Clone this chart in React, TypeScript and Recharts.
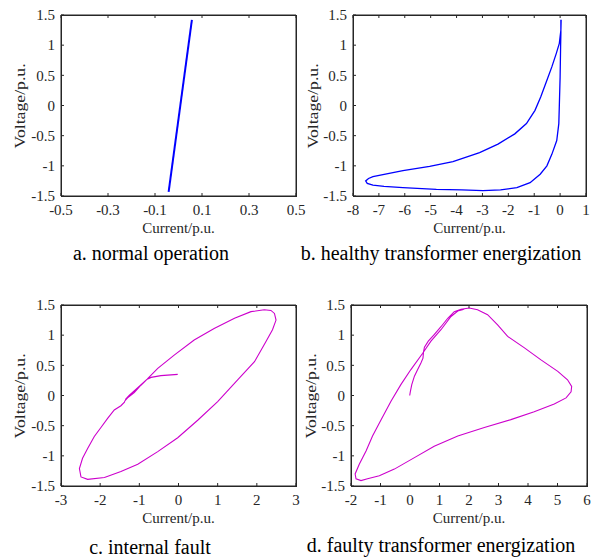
import React from 'react';
import { LineChart, Line, XAxis, YAxis } from 'recharts';

const FONT = '"Liberation Serif", "Times New Roman", serif';
const INK = '#262626';

// Shared voltage ticks
const voltageTicks = [-1.5, -1, -0.5, 0, 0.5, 1, 1.5];

// a. normal operation
const aCurrentTicks = [-0.5, -0.3, -0.1, 0.1, 0.3, 0.5];
const aCurrent = [-0.042, 0.057];
const aVoltage = [-1.43, 1.42];

// b. healthy transformer energization
const bCurrentTicks = [-8, -7, -6, -5, -4, -3, -2, -1, 0, 1];
const bCurrent = [0.03, 0.03, 0.02, 0.0, -0.03, -0.05, -0.13, -0.32, -0.51, -0.77, -1.16, -1.67, -2.3, -2.98, -3.8, -4.78, -6.07, -6.8, -7.23, -7.45, -7.51, -7.4, -7.23, -6.07, -5.04, -4.14, -3.11, -2.4, -1.75, -1.3, -0.97, -0.75, -0.51, -0.32, -0.15, -0.03, 0.03, 0.04];
const bVoltage = [1.42, 1.2, 1.0, 0.47, 0.0, -0.3, -0.58, -0.81, -1.0, -1.14, -1.28, -1.36, -1.4, -1.41, -1.4, -1.39, -1.36, -1.34, -1.32, -1.29, -1.25, -1.21, -1.18, -1.08, -1.01, -0.93, -0.78, -0.64, -0.47, -0.3, -0.08, 0.14, 0.42, 0.64, 0.86, 1.03, 1.25, 1.42];

// c. internal fault
const cCurrentTicks = [-3, -2, -1, 0, 1, 2, 3];
const cCurrent = [-0.02, -0.45, -0.7, -0.8, -0.96, -1.13, -1.3, -1.37, -1.38, -1.47, -1.64, -1.81, -1.98, -2.15, -2.32, -2.45, -2.53, -2.49, -2.32, -1.89, -1.47, -1.04, -0.53, -0.02, 0.49, 1.0, 1.51, 1.94, 2.23, 2.4, 2.49, 2.45, 2.36, 2.19, 1.85, 1.43, 0.91, 0.4, -0.11, -0.53, -0.8, -1.04, -1.26, -1.36];
const cVoltage = [0.35, 0.33, 0.3, 0.27, 0.17, 0.05, -0.04, -0.09, -0.11, -0.17, -0.24, -0.38, -0.53, -0.68, -0.88, -1.04, -1.21, -1.35, -1.39, -1.36, -1.26, -1.14, -0.93, -0.7, -0.41, -0.1, 0.26, 0.56, 0.89, 1.09, 1.25, 1.36, 1.41, 1.42, 1.39, 1.28, 1.11, 0.92, 0.67, 0.45, 0.27, 0.13, 0.0, -0.07];

// d. faulty transformer energization
const dCurrentTicks = [-2, -1, 0, 1, 2, 3, 4, 5, 6];
const dCurrent = [-0.01, 0.01, 0.06, 0.15, 0.26, 0.37, 0.44, 0.46, 0.49, 0.62, 0.82, 1.05, 1.28, 1.5, 1.73, 2.01, 2.29, 2.63, 2.97, 3.31, 3.88, 4.44, 5.01, 5.34, 5.48, 5.46, 5.29, 4.89, 4.21, 3.42, 2.52, 1.62, 0.82, 0.15, -0.53, -1.04, -1.44, -1.66, -1.83, -1.86, -1.72, -1.49, -1.27, -0.98, -0.64, -0.31, 0.03, 0.43, 0.71, 1.05, 1.39, 1.62, 1.84];
const dVoltage = [0.0, 0.06, 0.18, 0.32, 0.43, 0.54, 0.62, 0.73, 0.8, 0.9, 1.01, 1.14, 1.28, 1.39, 1.43, 1.45, 1.42, 1.34, 1.17, 0.98, 0.79, 0.59, 0.4, 0.26, 0.15, 0.06, -0.04, -0.14, -0.27, -0.4, -0.53, -0.67, -0.84, -1.03, -1.22, -1.33, -1.38, -1.41, -1.38, -1.3, -1.14, -0.92, -0.67, -0.4, -0.09, 0.18, 0.43, 0.7, 0.9, 1.09, 1.31, 1.4, 1.43];

// Text labels
const xTitle = 'Current/p.u.';
const yTitle = 'Voltage/p.u.';
const captions = [
  'a. normal operation',
  'b. healthy transformer energization',
  'c. internal fault',
  'd. faulty transformer energization',
];

const zip = (xs: number[], ys: number[]) => xs.map((x, i) => ({ x, y: ys[i] }));

const H = 245;

type PanelProps = {
  left: number;
  top: number;
  width: number;
  data: { x: number; y: number }[];
  xDomain: [number, number];
  xTicks: number[];
  color: string;
  strokeWidth: number;
  yAxisWidth: number;
  plotRight: number;
};

const Panel = (p: PanelProps) => (
  <div style={{ position: 'absolute', left: p.left, top: p.top }}>
    <LineChart width={p.width} height={H} data={p.data} margin={{ top: 14, right: p.width - p.plotRight - 1, bottom: 0, left: 0 }}>
      <XAxis xAxisId="b" type="number" dataKey="x" domain={p.xDomain} ticks={p.xTicks} interval={0} height={49} tickSize={-3} tickMargin={11} stroke={INK} tick={{ fill: INK, fontSize: 15, fontFamily: FONT }} />
      <XAxis xAxisId="t" orientation="top" type="number" dataKey="x" domain={p.xDomain} ticks={p.xTicks} interval={0} height={1} tickSize={-3} tickFormatter={() => ''} stroke={INK} />
      <YAxis yAxisId="l" type="number" domain={[-1.5, 1.5]} ticks={voltageTicks} interval={0} width={p.yAxisWidth} tickSize={-3} tickMargin={9} stroke={INK} tick={{ fill: INK, fontSize: 15, fontFamily: FONT }} />
      <YAxis yAxisId="r" orientation="right" type="number" domain={[-1.5, 1.5]} ticks={voltageTicks} interval={0} width={1} tickSize={-3} tickFormatter={() => ''} stroke={INK} />
      <Line xAxisId="b" yAxisId="l" type="linear" dataKey="y" stroke={p.color} strokeWidth={p.strokeWidth} dot={false} activeDot={false} isAnimationActive={false} />
    </LineChart>
  </div>
);

// Plot frames (left, top, width, height)
const frames = [[61, 15, 236, 182], [353, 15, 234, 182], [61, 305, 236, 182], [351, 305, 237, 182]];
// Title placements (centre x, baseline y)
const xTitlePos = [[178.5, 233], [469.5, 233], [178.5, 523], [469, 523]];
const yTitlePos = [[20, 105.5], [313, 105.5], [20, 395.5], [311, 395.5]];
const captionPos = [[151, 260], [441, 260], [150, 554], [441, 552]];

const textBase: React.CSSProperties = { position: 'absolute', fontFamily: FONT, textAlign: 'center', whiteSpace: 'nowrap' };

export default function App() {
  return (
    <div style={{ position: 'absolute', left: 0, top: 0, width: 593, height: 559, background: '#fff' }}>
      {frames.map(([l, t, w, h], i) => (
        <div key={'f' + i} style={{ position: 'absolute', left: l, top: t, width: w, height: h, boxSizing: 'border-box', border: `1px solid ${INK}` }} />
      ))}
      <Panel left={0} top={0} width={310} data={zip(aCurrent, aVoltage)} xDomain={[-0.5, 0.5]} xTicks={aCurrentTicks} color="#0000ff" strokeWidth={2} yAxisWidth={61} plotRight={296} />
      <Panel left={293} top={0} width={300} data={zip(bCurrent, bVoltage)} xDomain={[-8, 1.000001]} xTicks={bCurrentTicks} color="#0000ff" strokeWidth={1.3} yAxisWidth={60} plotRight={293} />
      <Panel left={0} top={290} width={310} data={zip(cCurrent, cVoltage)} xDomain={[-3, 3]} xTicks={cCurrentTicks} color="#cc00cc" strokeWidth={1.1} yAxisWidth={61} plotRight={296} />
      <Panel left={293} top={290} width={300} data={zip(dCurrent, dVoltage)} xDomain={[-2, 6]} xTicks={dCurrentTicks} color="#cc00cc" strokeWidth={1.1} yAxisWidth={58} plotRight={294} />
      {xTitlePos.map(([x, y], i) => (
        <div key={'x' + i} style={{ ...textBase, left: x - 100, top: y - 15.1, width: 200, height: 20, lineHeight: '20px', fontSize: 15, color: INK }}>
          {xTitle}
        </div>
      ))}
      {yTitlePos.map(([x, y], i) => (
        <div key={'y' + i} style={{ ...textBase, left: x - 100, top: y - 10, width: 200, height: 20, lineHeight: '20px', fontSize: 15, color: INK, transform: 'rotate(-90deg) scale(1.18, 1)', transformOrigin: '50% 50%' }}>
          {yTitle}
        </div>
      ))}
      {captions.map((c, i) => (
        <div key={c} style={{ ...textBase, left: captionPos[i][0] - 150, top: captionPos[i][1] - 18.75, width: 300, height: 24, lineHeight: '24px', fontSize: 20, color: '#000' }}>
          {c}
        </div>
      ))}
    </div>
  );
}
